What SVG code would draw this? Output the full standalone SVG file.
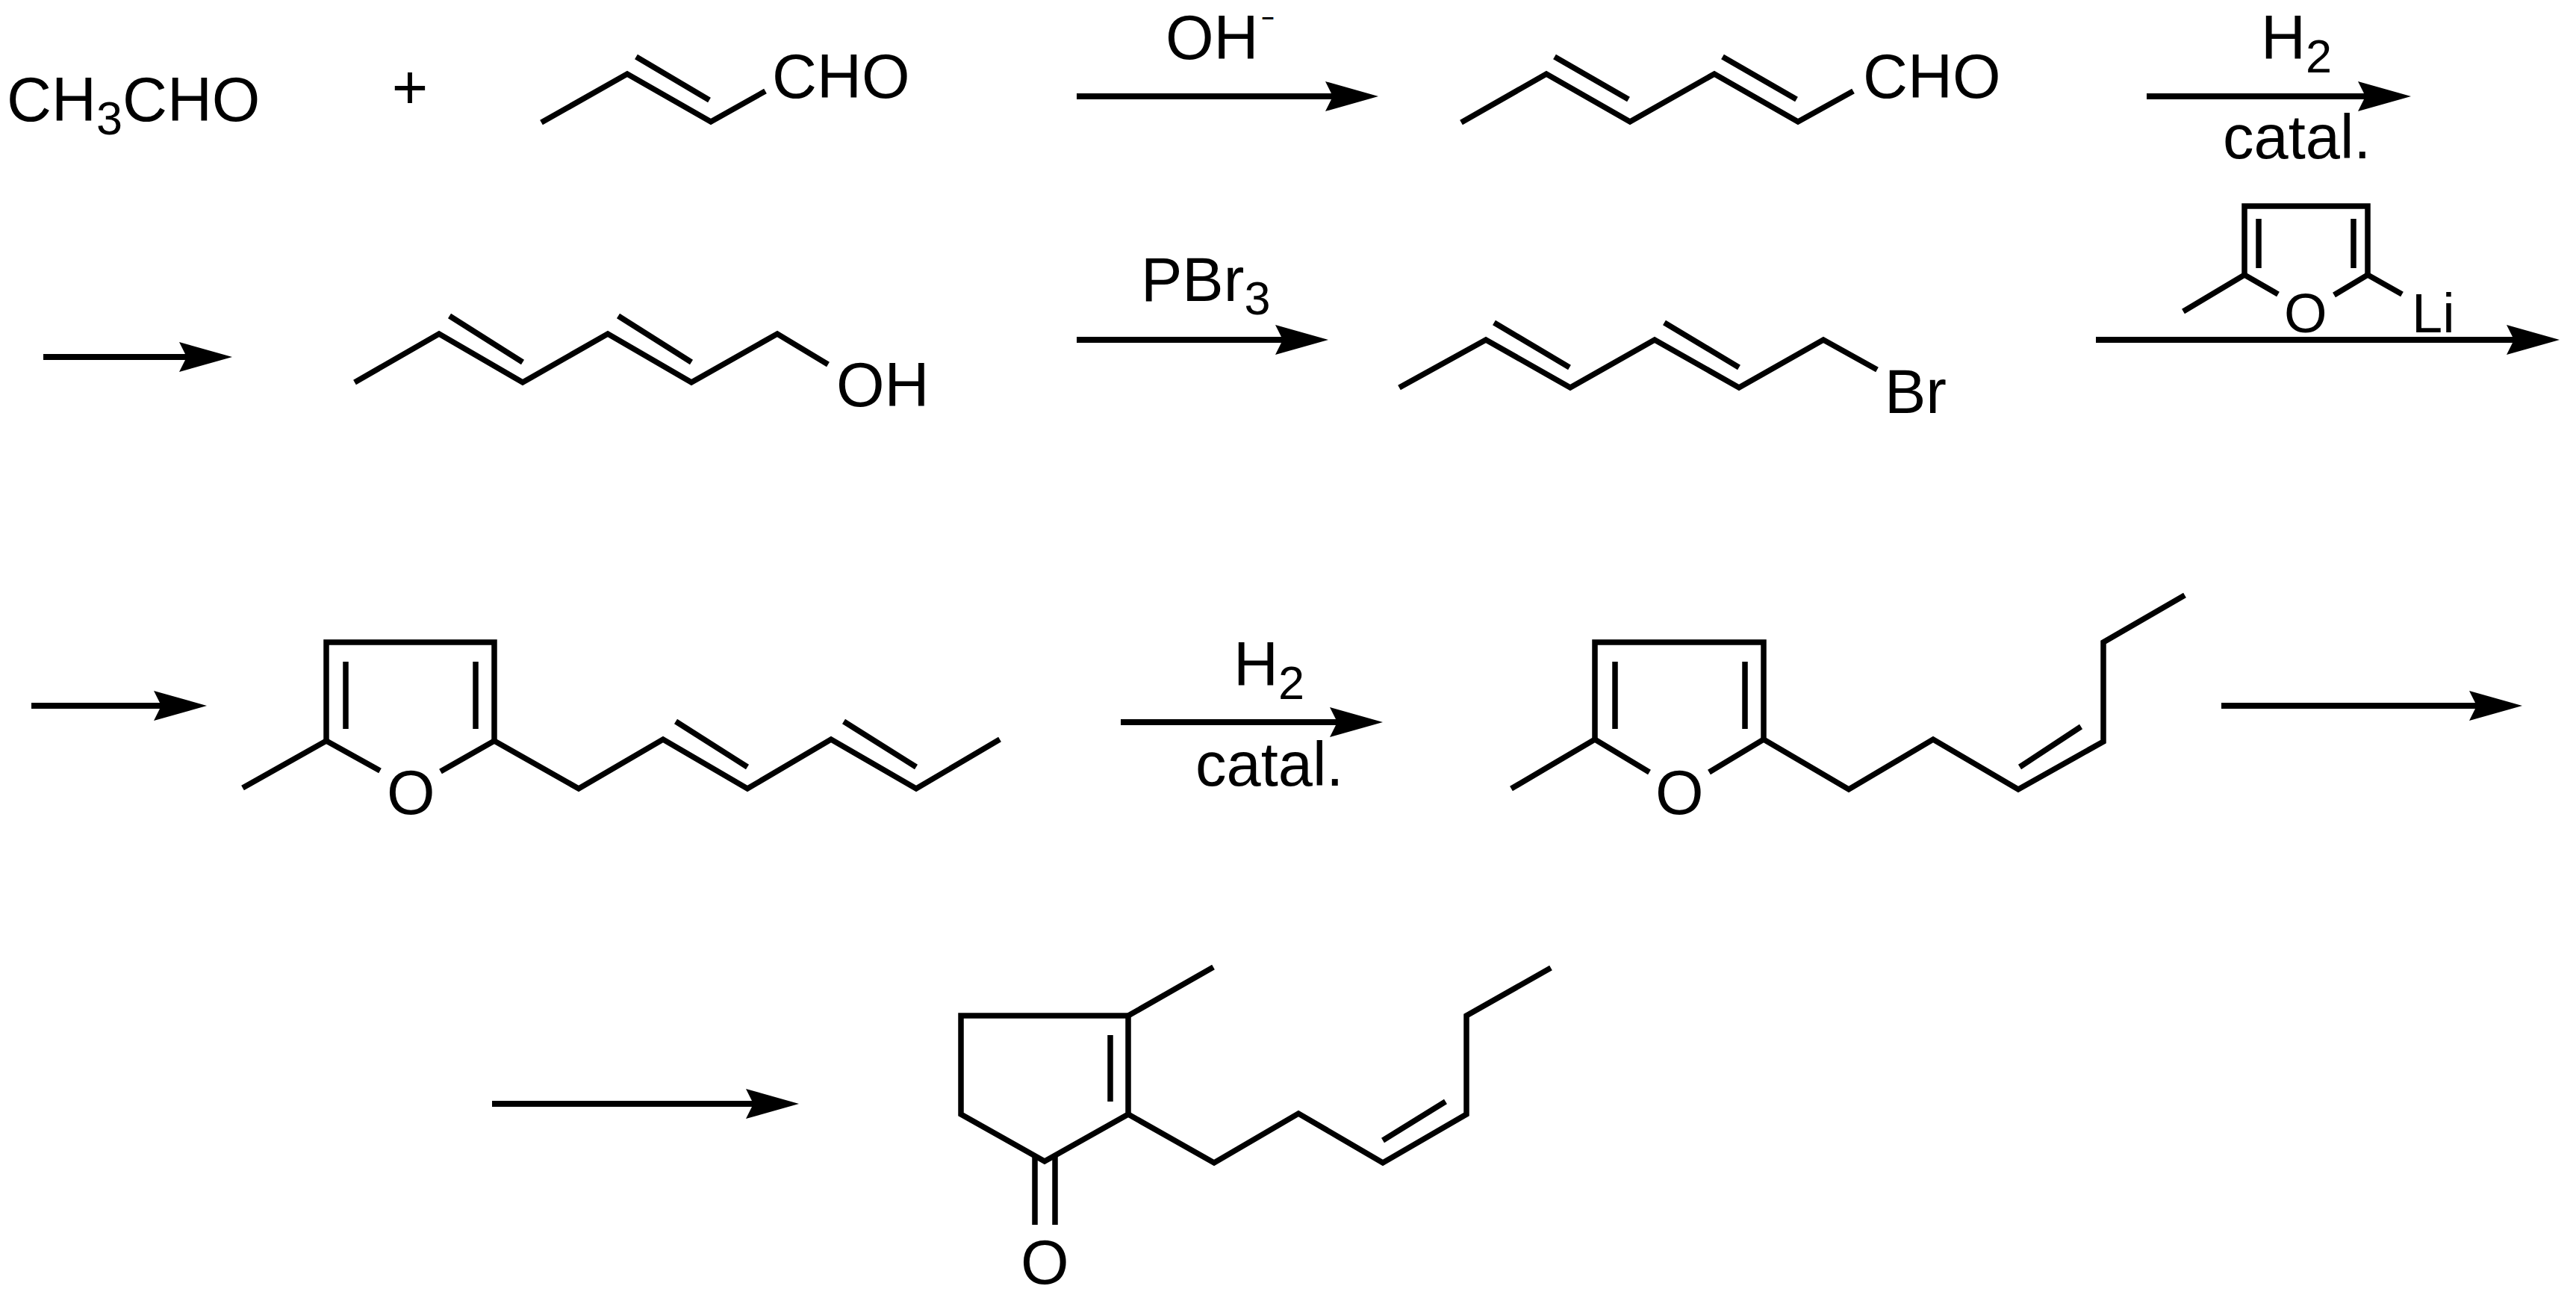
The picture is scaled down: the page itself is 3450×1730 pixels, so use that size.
<svg xmlns="http://www.w3.org/2000/svg" width="3450" height="1730" viewBox="0 0 3450 1730">
<style>
.b{fill:none;stroke:#000;stroke-width:7.5;stroke-linejoin:miter;stroke-miterlimit:10}
.a{fill:none;stroke:#000;stroke-width:8;marker-end:url(#head)}
text{font-family:"Liberation Sans",Arial,sans-serif;font-size:83px;fill:#000}
.s{font-size:63px}
.f{font-size:74px}
.m{font-size:37px}
</style>
<defs>
<marker id="head" markerUnits="userSpaceOnUse" markerWidth="72" markerHeight="42" viewBox="0 0 72 42" refX="10" refY="21" orient="auto">
<path d="M0 1L71 21L0 41L10 21Z" fill="#000"/>
</marker>
</defs>
<rect width="3450" height="1730" fill="#fff"/>
<g id="connectors">
<path class="a" d="M1442 129H1785"/>
<path class="a" d="M2875 129H3168"/>
<path class="a" d="M58 478H250"/>
<path class="a" d="M1442 455H1718"/>
<path class="a" d="M2807 455H3367"/>
<path class="a" d="M42 945H216"/>
<path class="a" d="M1501 967H1791"/>
<path class="a" d="M2975 945H3317"/>
<path class="a" d="M659 1478H1009"/>
</g>
<g id="acetaldehyde"><text x="9" y="162">CH<tspan class="s" dy="18">3</tspan><tspan dy="-18">CHO</tspan></text></g>
<g id="plus"><text x="549" y="145" text-anchor="middle">+</text></g>
<g id="crotonaldehyde">
<path class="b" d="M725 164L840 99L952 163L1025 122"/>
<path class="b" d="M852 76L950 134"/>
<text x="1034" y="131">CHO</text>
</g>
<g id="reagent-oh"><text x="1561" y="79">OH</text><text class="m" x="1688" y="34" textLength="20" lengthAdjust="spacingAndGlyphs">-</text></g>
<g id="sorbaldehyde">
<path class="b" d="M1957 164L2071 99L2183 163L2296 99L2408 163L2482 122"/>
<path class="b" d="M2082 76L2181 133"/>
<path class="b" d="M2307 76L2406 133"/>
<text x="2495" y="131">CHO</text>
</g>
<g id="reagent-h2-1"><text x="3028" y="79">H<tspan class="s" dy="18">2</tspan></text><text x="2977" y="212">catal.</text></g>
<g id="hexadienol">
<path class="b" d="M475 512L588 447L700 512L814 447L926 512L1041 447L1109 488"/>
<path class="b" d="M602 423L700 485"/>
<path class="b" d="M828 423L926 485"/>
<text x="1120" y="544">OH</text>
</g>
<g id="reagent-pbr3"><text x="1528" y="403">PBr<tspan class="s" dy="18">3</tspan></text></g>
<g id="hexadienyl-bromide">
<path class="b" d="M1874 519L1990 455L2103 519L2216 455L2329 519L2442 455L2514 495"/>
<path class="b" d="M2001 432L2102 492"/>
<path class="b" d="M2229 432L2329 492"/>
<text x="2524" y="553">Br</text>
</g>
<g id="reagent-lithiofuran">
<path class="b" d="M2924 417L3006 368L3051 394"/>
<path class="b" d="M3006 368V276H3171V368"/>
<path class="b" d="M3126 395L3171 368L3217 394"/>
<path class="b" d="M3025 293V359"/>
<path class="b" d="M3152 293V359"/>
<text class="f" x="3059" y="445">O</text>
<text class="f" x="3230" y="445">Li</text>
</g>
<g id="dienylfuran">
<path class="b" d="M325 1055L437 992L509 1032"/>
<path class="b" d="M437 992V860H662V992"/>
<path class="b" d="M590 1033L662 992L775 1056L888 990L1001 1056L1113 990L1227 1056L1339 990"/>
<path class="b" d="M463 886V976"/>
<path class="b" d="M637 886V976"/>
<path class="b" d="M905 966L1001 1027"/>
<path class="b" d="M1130 966L1227 1027"/>
<text x="518" y="1090">O</text>
</g>
<g id="reagent-h2-2"><text x="1652" y="918">H<tspan class="s" dy="18">2</tspan></text><text x="1601" y="1052">catal.</text></g>
<g id="hexenylfuran">
<path class="b" d="M2024 1056L2136 990L2209 1034"/>
<path class="b" d="M2136 990V860H2362V990"/>
<path class="b" d="M2289 1034L2362 990L2476 1057L2589 990L2703 1057L2817 993V860L2926 797"/>
<path class="b" d="M2163 886V976"/>
<path class="b" d="M2337 886V976"/>
<path class="b" d="M2787 973L2705 1027"/>
<text x="2217" y="1090">O</text>
</g>
<g id="jasmone">
<path class="b" d="M1511 1360H1287V1492L1399 1555L1511 1492Z"/>
<path class="b" d="M1511 1360L1625 1295"/>
<path class="b" d="M1511 1492L1626 1557L1739 1491L1852 1557L1964 1492V1360L2077 1296"/>
<path class="b" d="M1487 1386V1475"/>
<path class="b" d="M1936 1475L1852 1527"/>
<path class="b" d="M1386 1548V1640"/>
<path class="b" d="M1413 1548V1640"/>
<text x="1367" y="1719">O</text>
</g>
</svg>
